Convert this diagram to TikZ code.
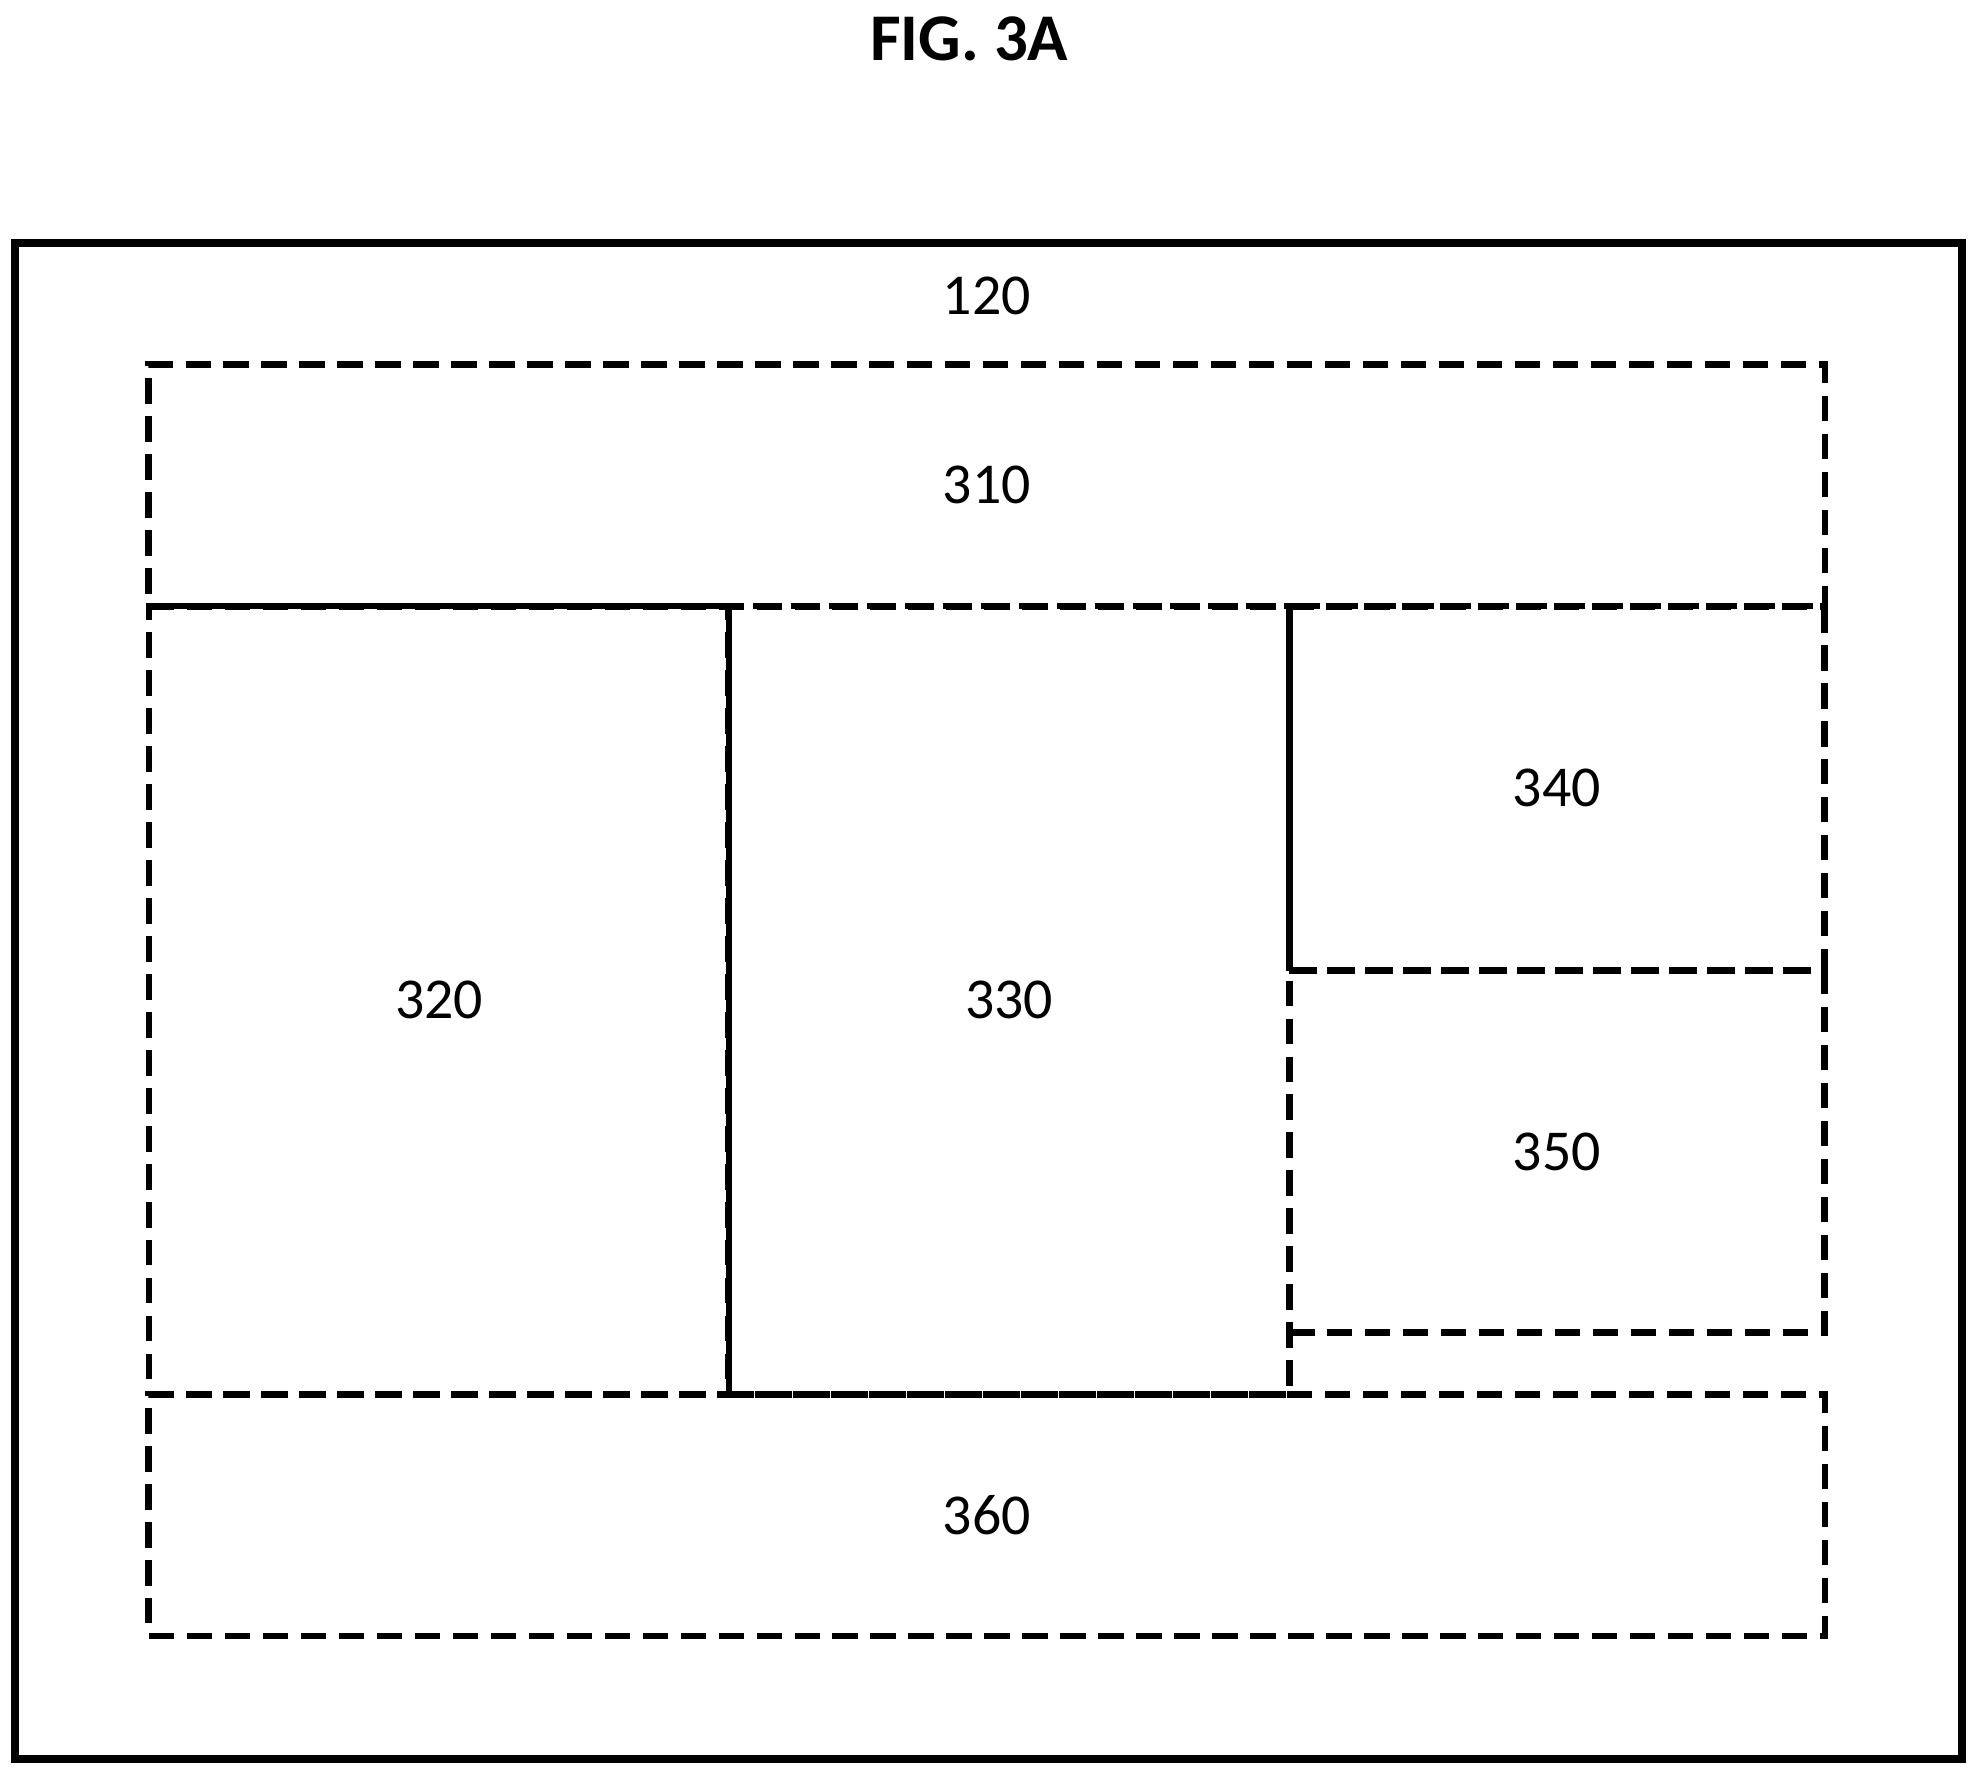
\documentclass[tikz,border=0pt]{standalone}
\usepackage{fontspec}
\setmainfont{Carlito}
\begin{document}
\begin{tikzpicture}[x=0.01cm, y=-0.01cm,
    region/.style={draw, dash pattern=on 0.2cm off 0.1cm, line width=1.5pt, inner sep=0pt, outer sep=0pt, font=\fontsize{13}{15}\selectfont},
    device/.style={draw, line width=1.8pt, inner sep=0pt, outer sep=0pt}]
    \useasboundingbox (0,0) rectangle (1568,1408);

    % Title
    \node[font=\bfseries\fontsize{15}{18}\selectfont] (title) at (766,31) {FIG. 3A};

    % Device
    \node[device, minimum width=15.38cm, minimum height=11.98cm] (dev) at (781,791) {};
    \node[font=\fontsize{13}{15}\selectfont] (devlabel) at (780,234) {120};

    % Regions
    \node[region, minimum width=13.24cm, minimum height=1.91cm] (r310) at (780,383.5) {310};
    \node[region, minimum width=4.58cm, minimum height=6.23cm] (r320) at (347,790.5) {320};
    \node[region, minimum width=4.43cm, minimum height=6.23cm] (r330) at (797.5,790.5) {330};
    \node[region, minimum width=4.23cm, minimum height=2.88cm] (r340) at (1230.5,623) {340};
    \node[region, minimum width=4.23cm, minimum height=2.86cm] (r350) at (1230.5,910) {350};
    \node[region, minimum width=13.24cm, minimum height=1.91cm] (r360) at (780,1197.5) {360};
\end{tikzpicture}
\end{document}
